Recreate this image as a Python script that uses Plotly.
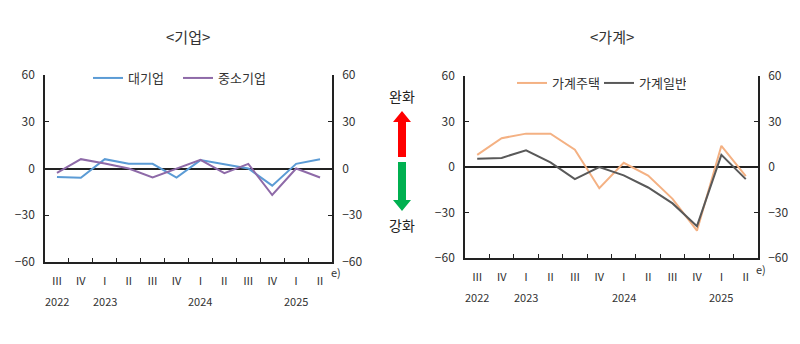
import plotly.graph_objects as go

W, H = 800, 344

periods = ["2022Q3", "2022Q4", "2023Q1", "2023Q2", "2023Q3", "2023Q4",
           "2024Q1", "2024Q2", "2024Q3", "2024Q4", "2025Q1", "2025Q2"]
quarter_labels = ["Ⅲ", "Ⅳ", "Ⅰ", "Ⅱ", "Ⅲ", "Ⅳ", "Ⅰ", "Ⅱ", "Ⅲ", "Ⅳ", "Ⅰ", "Ⅱ"]
year_labels = ["2022", "2023", "2024", "2025"]
year_pos = [0, 2, 6, 10]

large_firms = [-5.4, -6, 6, 3, 3, -5.8, 5.4, 2.8, 0, -11, 3, 6]
sme = [-2.8, 6, 3.2, 0, -5.8, 0, 5.6, -3, 3, -17, 0, -5.8]
hh_housing = [8, 19, 22, 22, 11.4, -14, 2.8, -5.7, -21, -42, 14, -6]
hh_general = [5.5, 6, 11, 3, -8, 0, -5.5, -13.5, -24, -39, 8, -8]

ytick_vals = [-60, -30, 0, 30, 60]

FONT = "Noto Sans CJK KR"
AX = "#222222"
TXT = "#333333"

def px(x):
    return x / W

def py(y):
    return 1 - y / H

fig = go.Figure()

fig.add_trace(go.Scatter(x=periods, y=large_firms, name="대기업", mode="lines",
                         line=dict(color="#5B9BD5", width=2), xaxis="x", yaxis="y", legend="legend"))
fig.add_trace(go.Scatter(x=periods, y=sme, name="중소기업", mode="lines",
                         line=dict(color="#8E6AA8", width=2), xaxis="x", yaxis="y", legend="legend"))
fig.add_trace(go.Scatter(x=periods, y=hh_housing, name="가계주택", mode="lines",
                         line=dict(color="#F4B183", width=2), xaxis="x2", yaxis="y3", legend="legend2"))
fig.add_trace(go.Scatter(x=periods, y=hh_general, name="가계일반", mode="lines",
                         line=dict(color="#595959", width=2), xaxis="x2", yaxis="y3", legend="legend2"))

dom_l_x = [px(45), px(332)]
dom_l_y = [py(262), py(75)]
dom_r_x = [px(465), px(758)]
dom_r_y = [py(258), py(76)]

def xaxis(domain, anchor):
    return dict(domain=domain, anchor=anchor, type="category", categoryorder="array",
                categoryarray=periods, range=[-0.5, 11.5],
                tickmode="array", tickvals=periods, ticktext=quarter_labels,
                tickson="boundaries", ticks="inside", ticklen=4, tickcolor=AX, tickwidth=1,
                showline=True, linecolor=AX, linewidth=1.5, showgrid=False, zeroline=False,
                tickfont=dict(family=FONT, size=11, color=TXT), ticklabelstandoff=8,
                fixedrange=True, automargin=False, layer="above traces")

def yaxis(domain, anchor, side, overlaying=None):
    d = dict(domain=domain, anchor=anchor, side=side, range=[-60, 60],
             tickmode="array", tickvals=ytick_vals, ticks="inside", ticklen=4, tickcolor=AX,
             tickwidth=1, showline=True, linecolor=AX, linewidth=1.5, showgrid=False,
             zeroline=(overlaying is None), zerolinecolor="#222222", zerolinewidth=1.5,
             tickfont=dict(family=FONT, size=12, color=TXT), ticklabelstandoff=6,
             fixedrange=True, automargin=False)
    if overlaying:
        d["overlaying"] = overlaying
    return d

fig.update_layout(
    width=W, height=H,
    margin=dict(l=0, r=0, t=0, b=0, autoexpand=False),
    paper_bgcolor="white", plot_bgcolor="white",
    font=dict(family=FONT, color=TXT),
    xaxis=xaxis(dom_l_x, "y"),
    yaxis=yaxis(dom_l_y, "x", "left"),
    yaxis2=yaxis(dom_l_y, "x", "right", overlaying="y"),
    xaxis2=xaxis(dom_r_x, "y3"),
    yaxis3=yaxis(dom_r_y, "x2", "left"),
    yaxis4=yaxis(dom_r_y, "x2", "right", overlaying="y3"),
    legend=dict(orientation="h", x=px(88), y=py(78), xanchor="left", yanchor="middle",
                bgcolor="rgba(0,0,0,0)", font=dict(family=FONT, size=13, color=TXT),
                entrywidth=45, itemwidth=30),
    legend2=dict(orientation="h", x=px(512), y=py(83), xanchor="left", yanchor="middle",
                 bgcolor="rgba(0,0,0,0)", font=dict(family=FONT, size=13, color=TXT),
                 entrywidth=42, itemwidth=30),
    showlegend=True,
)

# invisible helpers binding the right-hand axes
fig.add_trace(go.Scatter(x=[periods[0]], y=[0], xaxis="x", yaxis="y2", mode="markers",
                         marker=dict(opacity=0), showlegend=False, hoverinfo="skip"))
fig.add_trace(go.Scatter(x=[periods[0]], y=[0], xaxis="x2", yaxis="y4", mode="markers",
                         marker=dict(opacity=0), showlegend=False, hoverinfo="skip"))

def note(text, x, y, size, xref="paper", xanchor="center", color=TXT):
    return dict(text=text, x=x, y=y, xref=xref, yref="paper", xanchor=xanchor,
                yanchor="middle", showarrow=False, font=dict(family=FONT, size=size, color=color))

ann = [
    note("&lt;기업&gt;", px(188), py(37), 15),
    note("&lt;가계&gt;", px(612), py(37), 15),
    note("e)", px(329), py(272), 11, xanchor="left"),
    note("e)", px(754), py(269), 11, xanchor="left"),
    note("완화", px(402), py(96), 14, color="#222"),
    note("강화", px(402), py(225), 14, color="#222"),
]
for xa, yy in (("x", 301), ("x2", 297)):
    for lbl, pos in zip(year_labels, year_pos):
        ann.append(note(lbl, pos, py(yy), 11, xref=xa))
fig.update_layout(annotations=ann)

def P(x, y):
    return f"{px(x):.5f},{py(y):.5f}"

up = ("M " + P(398, 157) + " L " + P(398, 122) + " L " + P(393, 122) + " L " + P(402, 111)
      + " L " + P(411, 122) + " L " + P(406, 122) + " L " + P(406, 157) + " Z")
down = ("M " + P(398, 162) + " L " + P(398, 200) + " L " + P(393, 200) + " L " + P(402, 211)
        + " L " + P(411, 200) + " L " + P(406, 200) + " L " + P(406, 162) + " Z")
fig.update_layout(shapes=[
    dict(type="path", path=up, xref="paper", yref="paper", fillcolor="#FF0000", line=dict(width=0)),
    dict(type="path", path=down, xref="paper", yref="paper", fillcolor="#00B050", line=dict(width=0)),
])

fig.write_html("out.html")
